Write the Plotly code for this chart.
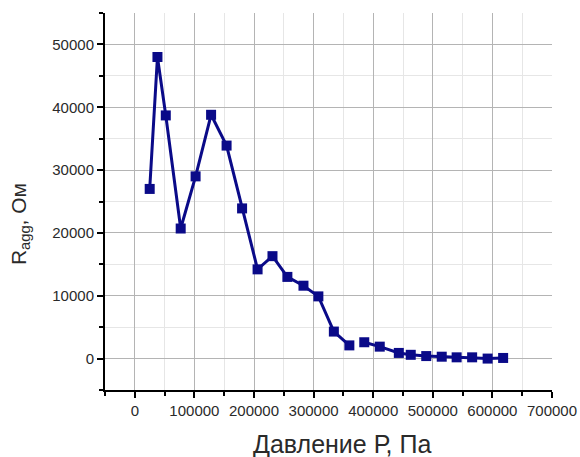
import plotly.graph_objects as go

# Pressure (Pa) and aggregate resistance (Ohm)
pressure = [25000, 38000, 52000, 77000, 102000, 128000, 154000, 180000, 206000,
            231000, 256000, 283000, 308000, 334000, 360000, 385000, 411000,
            443000, 463000, 489000, 515000, 540000, 566000, 592000, 618000]
r_agg = [27000, 48000, 38700, 20700, 29000, 38800, 33900, 23900, 14200,
         16300, 13000, 11600, 9900, 4300, 2100, 2600, 1900,
         900, 600, 400, 300, 200, 200, 0, 100]

# the measured curve has a break after the 15th point
segments = [(0, 15), (15, len(pressure))]

x_ticks = [0, 100000, 200000, 300000, 400000, 500000, 600000, 700000]
y_ticks = [0, 10000, 20000, 30000, 40000, 50000]

x_title = "Давление Р, Па"
y_title = "R<sub>agg</sub>, Ом"

navy = "#0a0a88"
text_color = "#2a2a2a"
font = "Liberation Sans, Arial, sans-serif"

fig = go.Figure()
for a, b in segments:
    fig.add_trace(go.Scatter(
        x=pressure[a:b], y=r_agg[a:b], mode="lines+markers",
        line=dict(color=navy, width=3),
        marker=dict(symbol="square", size=10, color=navy),
        showlegend=False,
    ))

fig.update_layout(
    width=580, height=457,
    margin=dict(l=105, r=28, t=13, b=67),
    paper_bgcolor="white", plot_bgcolor="white",
    font=dict(family=font, color=text_color),
)
axis_common = dict(
    tickfont=dict(size=15, family=font, color=text_color),
    ticks="outside", ticklen=6, tickwidth=2, tickcolor="black",
    showline=True, linecolor="black", linewidth=2,
    showgrid=True, gridcolor="#b4b4b4", gridwidth=1,
    zeroline=False, automargin=False,
)
fig.update_xaxes(
    range=[-50000, 700000], tickvals=x_ticks,
    ticktext=[str(v) for v in x_ticks],
    minor=dict(dtick=50000, tick0=0, ticks="outside", ticklen=4,
               tickwidth=1.5, tickcolor="black", showgrid=True,
               gridcolor="#e6e6e6", gridwidth=1),
    **axis_common,
)
fig.update_yaxes(
    range=[-5000, 55000], tickvals=y_ticks,
    ticktext=[str(v) for v in y_ticks],
    minor=dict(dtick=5000, tick0=0, ticks="outside", ticklen=4,
               tickwidth=1.5, tickcolor="black", showgrid=True,
               gridcolor="#e6e6e6", gridwidth=1),
    **axis_common,
)

# axis titles placed as paper annotations
fig.add_annotation(
    text=x_title, xref="paper", yref="paper", x=0.53, y=0,
    xanchor="center", yanchor="top", yshift=-38,
    showarrow=False, font=dict(size=25, family=font, color=text_color),
)
fig.add_annotation(
    text=y_title, xref="paper", yref="paper", x=0, y=0.44,
    xanchor="center", yanchor="middle", xshift=-85, textangle=-90,
    showarrow=False, font=dict(size=21, family=font, color=text_color),
)

fig.write_html("out.html")
